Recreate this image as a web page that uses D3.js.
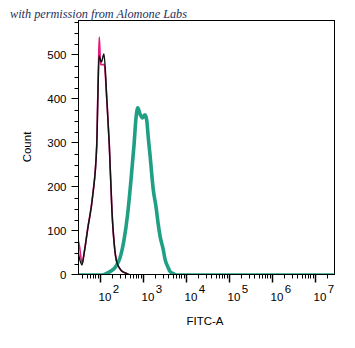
<!DOCTYPE html>
<html><head><meta charset="utf-8">
<script src="https://cdn.jsdelivr.net/npm/d3@7"></script>
<style>html,body{margin:0;padding:0;background:#fff;}svg{display:block;}</style>
</head><body>
<script>
// ---- data ----
const title = "with permission from Alomone Labs";
const xLabel = "FITC-A";
const yLabel = "Count";
const yTicksMajor = [0, 100, 200, 300, 400, 500];
const xDecades = [2, 3, 4, 5, 6, 7];

// pink (isotype / control)
const pinkX = [31.6, 33.9, 39.2, 44.3, 53.2, 69.5, 86.1, 90.8, 95.3, 98.9, 104.4, 107.2, 129.3, 138, 148, 169, 195, 221, 251, 316, 413, 512, 2.8e7];
const pinkY = [80, 68, 27, 53, 106, 182, 295, 398, 489, 541, 489, 478, 478, 448, 398, 295, 144, 68, 30, 11, 4, 0, 0];
// black (unstained)
const blackX = [31.6, 39.2, 44.3, 53.2, 69.5, 86.1, 91.3, 97.4, 110, 127, 148, 169, 195, 221, 251, 316, 413, 512];
const blackY = [52, 23, 52, 105, 180, 293, 398, 498, 484, 502, 398, 295, 144, 68, 30, 11, 4, 0];
// teal (antibody stained)
const tealX = [31.6, 118, 142, 185, 242, 300, 372, 448, 540, 634, 706, 778, 875, 1000, 1143, 1252, 1365, 1494, 1782, 2059, 2329, 2552, 3047, 3337, 3981, 4362, 5200, 6012, 2.8e7];
const tealY = [0, 0, 3, 9, 20, 39, 80, 136, 216, 295, 357, 380, 366, 357, 364, 352, 311, 273, 193, 155, 114, 89, 57, 36, 16, 8, 3, 0, 0];

// ---- drawing ----
const W = 355, H = 348;
const L = 78, R = 334, T = 20, B = 275;
const svg = d3.select("body").append("svg").attr("width", W).attr("height", H);

const x = d3.scaleLog().domain([31.6, 2.84e7]).range([L, R]);
const y = d3.scaleLinear().domain([0, 579.5]).range([B, T]);

svg.append("defs").append("clipPath").attr("id", "plotclip")
  .append("rect").attr("x", L).attr("y", T).attr("width", R - L).attr("height", B - T);

const g = svg.append("g").attr("clip-path", "url(#plotclip)");
const line = d3.line().x(d => x(d[0])).y(d => y(d[1])).curve(d3.curveMonotoneX);

function series(xs, ys, color, w) {
  g.append("path").datum(xs.map((v, i) => [v, ys[i]]))
    .attr("d", line).attr("fill", "none").attr("stroke", color)
    .attr("stroke-width", w).attr("stroke-linejoin", "round");
}
series(pinkX, pinkY, "#e3187d", 1.6);
series(tealX, tealY, "#1f9f84", 3.6);
series(blackX, blackY, "#111111", 1.5);

// frame
svg.append("rect").attr("x", L + 0.5).attr("y", T + 0.5).attr("width", R - L).attr("height", B - T - 1)
  .attr("fill", "none").attr("stroke", "#000").attr("stroke-width", 1);

// y axis ticks
const yMinor = d3.range(0, 580, 25).filter(v => v % 100 !== 0);
const yAxisG = svg.append("g").attr("transform", `translate(${L + 0.5},0)`);
yAxisG.selectAll("line.minor").data(yMinor).join("line")
  .attr("x1", -4).attr("x2", 0).attr("y1", d => Math.round(y(d)) + 0.5).attr("y2", d => Math.round(y(d)) + 0.5)
  .attr("stroke", "#000");
yAxisG.selectAll("line.major").data(yTicksMajor).join("line")
  .attr("x1", -7).attr("x2", 0).attr("y1", d => Math.round(y(d)) - 0.5).attr("y2", d => Math.round(y(d)) - 0.5)
  .attr("stroke", "#000").attr("stroke-width", 1);
yAxisG.selectAll("text").data(yTicksMajor).join("text")
  .attr("x", -12).attr("y", d => y(d)).attr("dy", "0.35em")
  .attr("text-anchor", "end").attr("font-family", "Liberation Sans, Arial, sans-serif")
  .attr("font-size", 11.5).attr("fill", "#000").text(d => d);

// x axis ticks
const xMinor = [];
for (let d = 1; d <= 7; d++) for (let m = 2; m <= 9; m++) {
  const v = m * Math.pow(10, d);
  if (v >= x.domain()[0] && v <= x.domain()[1]) xMinor.push(v);
}
const xMajor = xDecades.map(d => Math.pow(10, d));
const xAxisG = svg.append("g").attr("transform", `translate(0,${B - 0.5})`);
xAxisG.selectAll("line.minor").data(xMinor).join("line")
  .attr("x1", d => Math.round(x(d)) + 0.5).attr("x2", d => Math.round(x(d)) + 0.5)
  .attr("y1", 0).attr("y2", 4).attr("stroke", "#000");
xAxisG.selectAll("line.major").data(xMajor).join("line")
  .attr("x1", d => Math.round(x(d)) + 0.5).attr("x2", d => Math.round(x(d)) + 0.5)
  .attr("y1", 0).attr("y2", 8).attr("stroke", "#000").attr("stroke-width", 1.5);
const xl = svg.append("g").selectAll("text").data(xDecades).join("text")
  .attr("x", d => x(Math.pow(10, d)) - 1).attr("y", 300.5)
  .attr("font-family", "Liberation Sans, Arial, sans-serif").attr("font-size", 11.5).attr("fill", "#000");
xl.append("tspan").text("10");
xl.append("tspan").attr("dx", 1.5).attr("dy", -7.5).text(d => d);

// axis titles
svg.append("text").attr("x", 205).attr("y", 325).attr("text-anchor", "middle")
  .attr("font-family", "Liberation Sans, Arial, sans-serif").attr("font-size", 11.5).text(xLabel);
svg.append("text").attr("transform", "translate(31,147) rotate(-90)").attr("text-anchor", "middle")
  .attr("font-family", "Liberation Sans, Arial, sans-serif").attr("font-size", 11.5).text(yLabel);

// watermark title
svg.append("text").attr("x", 10).attr("y", 18)
  .attr("font-family", "Liberation Serif, serif").attr("font-style", "italic")
  .attr("font-size", 12.5).attr("fill", "#1d3060")
  .attr("textLength", 177).attr("lengthAdjust", "spacingAndGlyphs").text(title);
</script>
</body></html>
